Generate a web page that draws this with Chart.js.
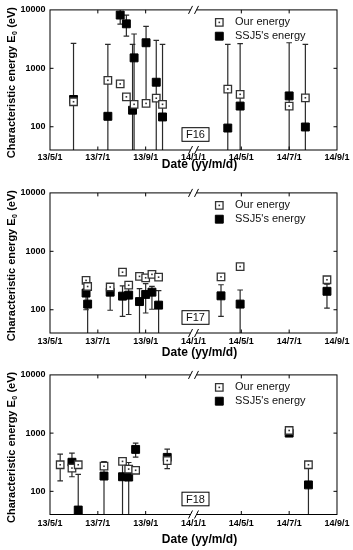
<!DOCTYPE html>
<html>
<head>
<meta charset="utf-8">
<script src="https://cdn.jsdelivr.net/npm/chart.js@4.4.0/dist/chart.umd.min.js"></script>
<style>
  body { margin: 0; background: #fff; }
  #wrap { position: relative; width: 353px; height: 550px; }
  canvas { position: absolute; left: 0; }
</style>
</head>
<body>
<div id="wrap">
  <canvas id="f16" width="353" height="183" style="top:0px"></canvas>
  <canvas id="f17" width="353" height="182" style="top:183px"></canvas>
  <canvas id="f18" width="353" height="185" style="top:365px"></canvas>
</div>
<script>
// x axis is broken: the ticks are evenly spaced on screen
const tickDates = ['2013-05-01', '2013-07-01', '2013-09-01', '2014-01-01', '2014-05-01', '2014-07-01', '2014-09-01'];
const xTickLabels = ['13/5/1', '13/7/1', '13/9/1', '14/1/1', '14/5/1', '14/7/1', '14/9/1'];
const yTicks = [100, 1000, 10000];

// F16
const ourDates16 = ['2013-05-31', '2013-07-14', '2013-07-30', '2013-08-07', '2013-08-17', '2013-09-02', '2013-09-28', '2013-10-14', '2014-03-28', '2014-04-28', '2014-07-01', '2014-07-22'];
const our16 = [268, 624, 541, 325, 242, 251, 308, 242, 442, 359, 226, 313];
const ssjDates16 = ['2013-05-31', '2013-07-14', '2013-07-30', '2013-08-07', '2013-08-15', '2013-08-17', '2013-09-02', '2013-09-28', '2013-10-14', '2014-03-28', '2014-04-28', '2014-07-01', '2014-07-22'];
const ssj16 = [293, 151, 8160, 5780, 192, 1510, 2740, 578, 147, 95, 226, 337, 99];
const ssjLo16 = [10, 10, 5690, 3550, 10, 10, 255, 10, 10, 10, 10, 10, 10];
const ssjHi16 = [2680, 2580, 12000, 8160, 2580, 3870, 5210, 3010, 2580, 2580, 2640, 2740, 2580];

// F17
const ourDates17 = ['2013-06-16', '2013-06-18', '2013-07-17', '2013-08-02', '2013-08-10', '2013-08-24', '2013-09-01', '2013-09-17', '2013-10-04', '2014-03-11', '2014-04-28', '2014-08-19'];
const our17 = [318, 250, 245, 439, 263, 372, 352, 403, 361, 366, 548, 326];
const ssjDates17 = ourDates17;
const ssj17 = [193, 125, 200, 171, 178, 138, 183, 200, 120, 173, 125, 207];
const ssjLo17 = [100, 10, 98, 77, 83, 10, 88, 102, 10, 77, 10, 107];
const ssjHi17 = [230, 250, 279, 257, 245, 230, 279, 251, 212, 268, 218, 275];

// F18
const ourDates18 = ['2013-05-14', '2013-05-29', '2013-06-06', '2013-07-09', '2013-08-02', '2013-08-10', '2013-08-19', '2013-10-26', '2014-07-01', '2014-07-26'];
const our18 = [286, 251, 286, 270, 327, 241, 230, 338, 1110, 286];
const ourLo18 = [151, null, null, null, null, null, null, null, null, null];
const ourHi18 = [437, null, null, null, null, null, null, null, null, null];
const ssjDates18 = ['2013-05-29', '2013-06-06', '2013-07-09', '2013-08-02', '2013-08-10', '2013-08-19', '2013-10-26', '2014-07-01', '2014-07-26'];
const ssj18 = [316, 47.7, 183, 178, 176, 525, 383, 1000, 129];
const ssjLo18 = [178, 10, 10, 10, 10, 386, 245, null, 10];
const ssjHi18 = [454, 195, 325, 300, 313, 673, 529, null, 280];

const FONT = '"Liberation Sans", Arial, sans-serif';

function dateToPos(d) {
    const t = Date.parse(d);
    const ts = tickDates.map(Date.parse);
    for (let i = 0; i < ts.length - 1; i++) {
        if (t <= ts[i + 1]) return i + (t - ts[i]) / (ts[i + 1] - ts[i]);
    }
    return ts.length - 1;
}

function marker(ctx, ds, x, y) {
    ctx.fillStyle = ds.backgroundColor;
    ctx.strokeStyle = ds.borderColor;
    ctx.lineWidth = ds.borderWidth;
    Chart.helpers.drawPoint(ctx, { pointStyle: 'rect', radius: ds.pointRadius, borderWidth: ds.borderWidth }, x, y);
    if (ds.centerDot) {
        ctx.fillStyle = '#333';
        ctx.fillRect(x - 0.8, y - 0.8, 1.6, 1.6);
    }
}

const panelDecor = {
    id: 'panelDecor',
    beforeDatasetsDraw(chart) {
        const { ctx, chartArea: a, scales: { y } } = chart;
        ctx.save();
        ctx.beginPath();
        ctx.rect(a.left, a.top, a.right - a.left, a.bottom - a.top);
        ctx.clip();
        ctx.strokeStyle = '#2a2a2a';
        ctx.lineWidth = 1.2;
        chart.data.datasets.forEach((ds, i) => {
            if (!ds.errLo) return;
            chart.getDatasetMeta(i).data.forEach((pt, j) => {
                const lo = ds.errLo[j], hi = ds.errHi[j];
                if (lo == null) return;
                const y1 = y.getPixelForValue(lo), y2 = y.getPixelForValue(hi);
                ctx.beginPath();
                ctx.moveTo(pt.x, y1); ctx.lineTo(pt.x, y2);
                ctx.moveTo(pt.x - 2.8, y2); ctx.lineTo(pt.x + 2.8, y2);
                ctx.moveTo(pt.x - 2.8, y1); ctx.lineTo(pt.x + 2.8, y1);
                ctx.stroke();
            });
        });
        ctx.restore();
    },
    afterDatasetsDraw(chart) {
        const ctx = chart.ctx;
        chart.data.datasets.forEach((ds, i) => {
            if (!ds.centerDot) return;
            ctx.fillStyle = '#333';
            chart.getDatasetMeta(i).data.forEach(pt => ctx.fillRect(pt.x - 0.8, pt.y - 0.8, 1.6, 1.6));
        });
    },
    afterDraw(chart, args, o) {
        const { ctx, chartArea: a, scales: { x, y } } = chart;
        ctx.save();
        // frame
        ctx.strokeStyle = '#000';
        ctx.lineWidth = 1;
        ctx.strokeRect(a.left, a.top, a.right - a.left, a.bottom - a.top);
        // inward ticks
        ctx.beginPath();
        yTicks.forEach(v => {
            const py = y.getPixelForValue(v);
            if (py <= a.top + 1) return;
            ctx.moveTo(a.left, py); ctx.lineTo(a.left + 3.5, py);
            ctx.moveTo(a.right, py); ctx.lineTo(a.right - 3.5, py);
        });
        for (let i = 1; i < xTickLabels.length - 1; i++) {
            if (i === 3) continue;
            const px = x.getPixelForValue(i);
            ctx.moveTo(px, a.bottom); ctx.lineTo(px, a.bottom - 3.5);
            ctx.moveTo(px, a.top); ctx.lineTo(px, a.top + 3.5);
        }
        ctx.stroke();
        // axis break marks
        const bx = x.getPixelForValue(3);
        [a.top, a.bottom].forEach(by => {
            ctx.fillStyle = '#fff';
            ctx.fillRect(bx - 3, by - 1.5, 6, 3);
            ctx.beginPath();
            ctx.moveTo(bx - 5, by + 4); ctx.lineTo(bx - 1, by - 4);
            ctx.moveTo(bx + 1, by + 4); ctx.lineTo(bx + 5, by - 4);
            ctx.stroke();
        });
        // legend
        chart.data.datasets.forEach((ds, i) => {
            const ly = a.top + 12.5 + i * 13.8;
            marker(ctx, ds, 219.3, ly);
            ctx.fillStyle = '#111';
            ctx.font = '11px ' + FONT;
            ctx.textAlign = 'left';
            ctx.textBaseline = 'middle';
            ctx.fillText(ds.label, 235, ly);
        });
        // satellite tag
        const tx = bx + 2, ty = a.bottom - 15.5;
        ctx.fillStyle = '#fff';
        ctx.fillRect(tx - 13.5, ty - 6.8, 27, 13.6);
        ctx.strokeRect(tx - 13.5, ty - 6.8, 27, 13.6);
        ctx.fillStyle = '#111';
        ctx.font = '11px ' + FONT;
        ctx.textAlign = 'center';
        ctx.fillText(o.tag, tx, ty + 0.5);
        // x title
        ctx.fillStyle = '#000';
        ctx.font = 'bold 12px ' + FONT;
        ctx.fillText('Date (yy/m/d)', 199.5, a.bottom + o.xTitleDy);
        // y title with subscript
        ctx.translate(11.7, (a.top + a.bottom) / 2 + 3);
        ctx.rotate(-Math.PI / 2);
        const main = 'bold 11px ' + FONT, sub = 'bold 7px ' + FONT;
        const s1 = 'Characteristic energy E', s2 = '0', s3 = ' (eV)';
        ctx.font = main;
        const w1 = ctx.measureText(s1).width, w3 = ctx.measureText(s3).width;
        ctx.font = sub;
        const w2 = ctx.measureText(s2).width;
        let cx = -(w1 + w2 + w3) / 2;
        ctx.textAlign = 'left';
        ctx.font = main; ctx.fillText(s1, cx, 0); cx += w1;
        ctx.font = sub; ctx.fillText(s2, cx + 0.3, 3.5); cx += w2 + 0.6;
        ctx.font = main; ctx.fillText(s3, cx, 0);
        ctx.restore();
    }
};

function makePanel(id, p) {
    const canvas = document.getElementById(id);
    const plotH = 142.5;
    const toPts = (dates, vals) => dates.map((d, i) => ({ x: dateToPos(d), y: vals[i] }));
    new Chart(canvas, {
        type: 'scatter',
        data: {
            datasets: [{
                label: 'Our energy',
                data: toPts(p.ourDates, p.our),
                errLo: p.ourLo, errHi: p.ourHi,
                pointStyle: 'rect',
                pointRadius: 5.3,
                backgroundColor: '#fff',
                borderColor: '#333',
                borderWidth: 1.3,
                centerDot: true
            }, {
                label: "SSJ5's energy",
                data: toPts(p.ssjDates, p.ssj),
                errLo: p.ssjLo, errHi: p.ssjHi,
                pointStyle: 'rect',
                pointRadius: 5.6,
                backgroundColor: '#000',
                borderColor: '#000',
                borderWidth: 1
            }]
        },
        options: {
            responsive: false,
            animation: false,
            events: [],
            layout: { padding: { left: 0, right: 16, top: p.top, bottom: 0 } },
            plugins: {
                legend: { display: false },
                tooltip: { enabled: false },
                panelDecor: { tag: p.tag, xTitleDy: p.xTitleDy }
            },
            scales: {
                x: {
                    type: 'linear',
                    min: 0,
                    max: xTickLabels.length - 1,
                    afterBuildTicks: s => { s.ticks = xTickLabels.map((_, i) => ({ value: i })); },
                    afterFit: s => { s.height = canvas.height - p.top - plotH; },
                    grid: { display: false, drawTicks: false },
                    border: { display: false },
                    ticks: {
                        autoSkip: false,
                        maxRotation: 0,
                        padding: p.tickPad,
                        color: '#000',
                        font: { family: FONT, size: 9, weight: 'bold' },
                        callback: v => xTickLabels[v]
                    }
                },
                y: {
                    type: 'logarithmic',
                    min: 40,
                    max: 10000,
                    afterBuildTicks: s => { s.ticks = yTicks.map(v => ({ value: v })); },
                    afterFit: s => { s.width = 50; },
                    grid: { display: false, drawTicks: false },
                    border: { display: false },
                    ticks: {
                        padding: 4.5,
                        color: '#000',
                        font: { family: FONT, size: 9, weight: 'bold' },
                        callback: v => String(v)
                    }
                }
            }
        },
        plugins: [panelDecor]
    });
}

makePanel('f16', {
    tag: 'F16', top: 7.5, tickPad: 2, xTitleDy: 15,
    ourDates: ourDates16, our: our16,
    ssjDates: ssjDates16, ssj: ssj16, ssjLo: ssjLo16, ssjHi: ssjHi16
});
makePanel('f17', {
    tag: 'F17', top: 7.5, tickPad: 3, xTitleDy: 20,
    ourDates: ourDates17, our: our17,
    ssjDates: ssjDates17, ssj: ssj17, ssjLo: ssjLo17, ssjHi: ssjHi17
});
makePanel('f18', {
    tag: 'F18', top: 7, tickPad: 3.5, xTitleDy: 25,
    ourDates: ourDates18, our: our18, ourLo: ourLo18, ourHi: ourHi18,
    ssjDates: ssjDates18, ssj: ssj18, ssjLo: ssjLo18, ssjHi: ssjHi18
});
</script>
</body>
</html>
